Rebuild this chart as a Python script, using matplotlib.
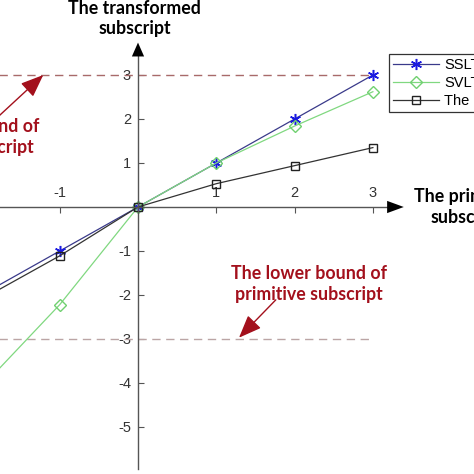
import numpy as np
import matplotlib.pyplot as plt

# data
x = [-3, -2, -1, 0, 1, 2, 3]
sslt = [-3, -2, -1, 0, 1, 2, 3]
svlt = [-6.1, -4.1, -2.22, 0, 1.0, 1.84, 2.62]
primitive = [-3.1, -2.1, -1.11, 0, 0.53, 0.94, 1.35]
labels = ['SSLT', 'SVLT', 'The primitive subscript']
xticks = [-3, -2, -1, 1, 2, 3]
yticks = [-5, -4, -3, -2, -1, 1, 2, 3]
upper_bound = 3
lower_bound = -3

W = 474
fig = plt.figure(figsize=(4.74, 4.74), dpi=100)
# axes reach past the left edge, the picture is cropped there
ax = fig.add_axes([-136.05 / W, 3 / W, 548.1 / W, 440 / W])
ax.set_xlim(-3.5, 3.5)
ax.set_ylim(-6, 4)

tick_font = {'family': 'Liberation Sans', 'size': 10.5}
bold_font = {'family': 'Lato', 'weight': 'bold', 'size': 12.8}

# bound lines
ax.plot([-3.5, 3], [upper_bound, upper_bound], '--', color='#a86a6a', lw=1, dashes=(6, 4))
ax.plot([-3.5, 3], [lower_bound, lower_bound], '--', color='#bba5a5', lw=1, dashes=(6, 4))

# series
ax.plot(x, sslt, '-', color='#3a3a8a', lw=0.9, marker=(6, 2, 0), ms=8, mew=1.1,
        mec='#1a1ae0', mfc='#1a1ae0', label=labels[0])
ax.plot(x, svlt, '-', color='#80d880', lw=0.9, marker='D', ms=6.5,
        mec='#70d070', mfc='none', label=labels[1])
ax.plot(x, primitive, '-', color='#333333', lw=0.9, marker='s', ms=5.5,
        mec='#222222', mfc='none', label=labels[2])

# axes through the origin
for s in ['right', 'bottom']:
    ax.spines[s].set_visible(False)
ax.spines['left'].set_position(('data', 0))
ax.spines['top'].set_position(('data', 0))
ax.spines['left'].set_bounds(-5.95, 3.6)
ax.spines['top'].set_bounds(-3.5, 3.25)
for s in ['left', 'top']:
    ax.spines[s].set_color('#555555')
    ax.spines[s].set_linewidth(1)
ax.xaxis.set_ticks_position('top')
ax.set_xticks(xticks)
ax.set_yticks(yticks)
ax.set_xticklabels([str(t) for t in xticks], fontdict=tick_font, color='#333333')
ax.set_yticklabels([str(t) for t in yticks], fontdict=tick_font, color='#333333')
ax.tick_params(axis='both', direction='in', length=4, width=0.8, color='#555555', pad=5)

# arrow heads
ax.annotate('', xy=(0, 3.8), xytext=(0, 3.5),
            arrowprops=dict(arrowstyle='-|>,head_length=0.5,head_width=0.22',
                            mutation_scale=20, color='black', lw=0))
ax.annotate('', xy=(3.43, 0), xytext=(3.1, 0),
            arrowprops=dict(arrowstyle='-|>,head_length=0.6,head_width=0.22',
                            mutation_scale=20, color='black', lw=0))

# axis titles
ax.text(-0.04, 4.28, 'The transformed\nsubscript', ha='center', va='center',
        fontdict=bold_font, linespacing=1.25, clip_on=False)
ax.text(4.2, 0, 'The primitive\nsubscript', ha='center', va='center',
        fontdict=bold_font, linespacing=1.25, clip_on=False)

# bound annotations
red = '#a3101c'
ax.annotate('', xy=(-1.21, 3.0), xytext=(-1.83, 1.98),
            arrowprops=dict(arrowstyle='-|>,head_length=0.7,head_width=0.28',
                            mutation_scale=20, color=red, lw=1, shrinkA=0, shrinkB=0))
ax.text(-2.27, 1.59, 'The upper bound of\nprimitive subscript', ha='center', va='center',
        fontdict=bold_font, color=red, linespacing=1.25, clip_on=False)
ax.annotate('', xy=(1.29, -2.97), xytext=(1.76, -2.11),
            arrowprops=dict(arrowstyle='-|>,head_length=0.7,head_width=0.28',
                            mutation_scale=20, color=red, lw=1, shrinkA=0, shrinkB=0))
ax.text(2.18, -1.75, 'The lower bound of\nprimitive subscript', ha='center', va='center',
        fontdict=bold_font, color=red, linespacing=1.25, clip_on=False)

leg = ax.legend(loc='upper left', bbox_to_anchor=(389 / W, 1 - 54 / W),
                bbox_transform=fig.transFigure, borderaxespad=0,
                prop={'family': 'Liberation Sans', 'size': 10.5},
                handlelength=3.1, labelspacing=0.25, borderpad=0.3,
                handletextpad=0.4, fancybox=False, framealpha=1)
leg.get_frame().set_edgecolor('#333333')
leg.get_frame().set_linewidth(0.9)

fig.savefig('out.png', dpi=100)
